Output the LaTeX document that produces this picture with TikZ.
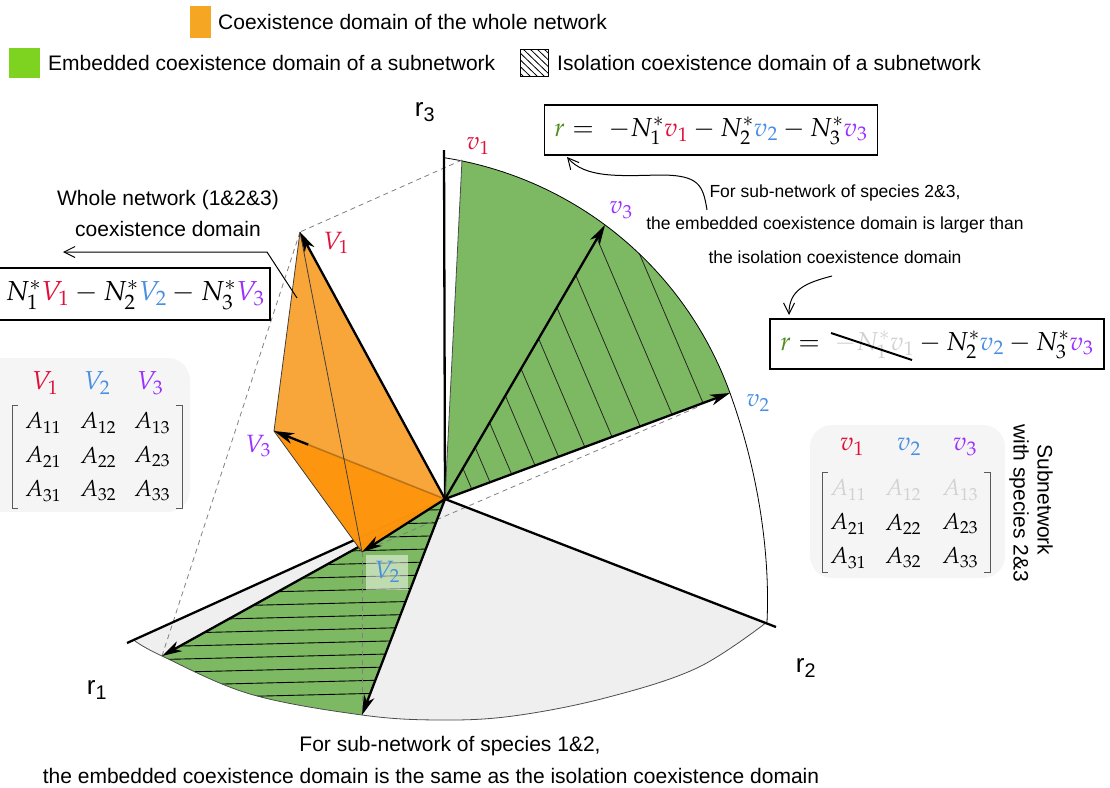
\documentclass[tikz,border=0pt]{standalone}
\usepackage{amsmath}
\usepackage{mathpazo}
\usepackage[no-math]{fontspec}
\setmainfont{Liberation Sans}
\usetikzlibrary{arrows.meta,calc}
\definecolor{cred}{HTML}{E0103A}
\definecolor{cblue}{HTML}{4A90E2}
\definecolor{cpurple}{HTML}{9B30FF}
\definecolor{cgreenr}{HTML}{4E8C1A}
\definecolor{legorange}{HTML}{F5A623}
\definecolor{leggreen}{HTML}{7ED321}
\definecolor{dgreen}{HTML}{7DB962}
\definecolor{orA}{HTML}{F8A02E}
\definecolor{orB}{HTML}{FF9100}
\definecolor{sectgray}{HTML}{EFEFEF}
\definecolor{boxgray}{HTML}{F5F5F5}
\begin{document}
\begin{tikzpicture}[x=1pt,y=-1pt,
  vec/.style={line width=2.3pt, -{Stealth[length=20pt,width=11pt,inset=6pt]}},
  axisline/.style={line width=2.3pt},
  thinedge/.style={line width=0.8pt},
  dashline/.style={gray, line width=0.8pt, dash pattern=on 5pt off 4pt},
  hatchl/.style={line width=0.8pt, black!85},
  lbl/.style={font=\fontsize{25}{28}\selectfont, inner sep=0pt},
  txt/.style={font=\fontsize{21}{25}\selectfont, inner sep=0pt, align=center},
  txts/.style={font=\fontsize{17.5}{21}\selectfont, inner sep=0pt, align=center},
  note/.style={line width=1pt, -{Straight Barb[length=11pt,width=11pt]}},
  eqbox/.style={draw, line width=1.5pt, inner sep=0pt},
  eqtxt/.style={font=\fontsize{26}{30}\selectfont, inner sep=0pt},
  eqtxtl/.style={font=\fontsize{27.5}{31}\selectfont, inner sep=0pt},
  ment/.style={font=\fontsize{23}{26}\selectfont, inner sep=0pt},
  mhead/.style={font=\fontsize{26}{30}\selectfont, inner sep=0pt},
  graybox/.style={fill=boxgray, rounded corners=22pt},
  bracket/.style={line width=1pt, black!65},
  axlbl/.style={font=\fontsize{26}{30}\selectfont, inner sep=0pt},
]
\useasboundingbox (0,0) rectangle (1110,787);
% key points
\coordinate (O) at (445,499);
\coordinate (R3) at (444,150);
\coordinate (R1) at (127,643);
\coordinate (R2) at (776,627);
\coordinate (P1) at (462,160);
\coordinate (P3) at (605,225);
\coordinate (P2) at (730,393);
\coordinate (B1) at (162,656);
\coordinate (B2) at (362,715);
\coordinate (V1) at (300,232);
\coordinate (V3) at (274,431);
\coordinate (V2) at (362,552);
\coordinate (D2) at (700,406);

% legend
\fill[legorange] (190,6) rectangle (211,38);
\node[txt, anchor=west] (leg1) at (218,22) {Coexistence domain of the whole network};
\fill[leggreen] (9,48) rectangle (40,78);
\node[txt, anchor=west] (leg2) at (48,63) {Embedded coexistence domain of a subnetwork};
\begin{scope}
  \clip (520,49) rectangle (548,76);
  \foreach \k in {-25,-18,...,30} \draw[line width=0.8pt] ({520+\k},49) -- ({548+\k},76);
\end{scope}
\draw[line width=1pt] (520,49) rectangle (548,76);
\node[txt, anchor=west] (leg3) at (557,63) {Isolation coexistence domain of a subnetwork};

% bottom gray sector
\fill[sectgray] (O) -- plot[smooth,tension=0.6] coordinates {(767,622) (697,668) (605,698) (513,716) (440,720) (362,715) (250,694) (162,656) (135,641)} -- cycle;
% bottom green + hatch
\begin{scope}
  \clip (O) -- ($(O)!3!(B1)$) -- ($(O)!3!(B2)$) -- cycle;
  \clip (O) -- plot[smooth,tension=0.6] coordinates {(767,622) (697,668) (605,698) (513,716) (440,720) (362,715) (250,694) (162,656) (135,641)} -- cycle;
  \fill[dgreen] (0,400) rectangle (800,787);
  \foreach \yy in {512,525,...,705} \draw[line width=0.9pt] (100,{\yy+6}) -- (470,{\yy-3});
\end{scope}
% upper green
\begin{scope}
  \clip (O) -- ($(O)!3!(P1)$) -- ($(O)!3!(P2)$) -- cycle;
  \fill[dgreen] (O) -- plot[domain=-81.1:-19.8,samples=60] ({389+362.5*cos(\x)},{516+362.5*sin(\x)}) .. controls (760.5,477.7) and (770,560) .. (767,622) -- cycle;
\end{scope}
% upper hatch
\begin{scope}
  \clip (O) -- ($(O)!3!(P3)$) -- ($(O)!3!(P2)$) -- cycle;
  \clip (O) -- plot[domain=-81.1:-19.8,samples=60] ({389+362.5*cos(\x)},{516+362.5*sin(\x)}) .. controls (760.5,477.7) and (770,560) .. (767,622) -- cycle;
  \foreach \o in {28.5,48,71,96,121,149,178,208,242,275}
    \draw[hatchl] ({445+\o*0.920-600*0.392},{499-\o*0.392-600*0.920}) -- ({445+\o*0.920+600*0.392},{499-\o*0.392+600*0.920});
\end{scope}
% arcs
\draw[thinedge] plot[domain=-81.1:-19.8,samples=60] ({389+362.5*cos(\x)},{516+362.5*sin(\x)}) .. controls (760.5,477.7) and (770,560) .. (767,622);
\draw[thinedge, black!70] plot[smooth,tension=0.6] coordinates {(767,622) (697,668) (605,698) (513,716) (440,720) (362,715) (250,694) (162,656) (135,641)};
% dashed projection lines
\draw[dashline] (P1) -- (V1);
\draw[dashline] (V1) -- (B1);
\draw[dashline] (V2) -- (B2);
\draw[dashline] (V2) -- (D2);
% axes
\draw[axisline] (O) -- (R3);
\draw[axisline] (O) -- (R1);
\draw[axisline] (O) -- (R2);
\draw[thinedge, black!70] (O) -- (P1);
% subnetwork vectors
\draw[vec] (O) -- (P3);
\draw[vec] (O) -- (P2);
\draw[vec] (O) -- (B1);
\draw[vec] (O) -- (B2);
% orange cone
\fill[orA, opacity=0.95] (V1) -- (V3) -- (V2) -- (O) -- cycle;
\fill[orB, opacity=0.75] (V3) -- (V2) -- (O) -- cycle;
\draw[thinedge, black!75] (V1) -- (V3) -- (V2);
\draw[thinedge, black!75] (V1) -- (V2);
\draw[line width=1.6pt, black, opacity=0.25] (O) -- (V3);
\draw[vec] ($(O)!0.8!(V3)$) -- (V3);
\draw[vec] (O) -- (V1);
\draw[vec] (O) -- (V2);
% labels
\node[lbl, text=cred] (lv1) at (478,146) {$v_1$};
\node[lbl, text=cpurple] (lv3) at (621,210) {$v_3$};
\node[lbl, text=cblue] (lv2) at (758,403) {$v_2$};
\node[lbl, text=cred] (lV1) at (336,243) {$V_1$};
\node[lbl, text=cpurple] (lV3) at (258,446) {$V_3$};
\fill[white, opacity=0.5] (366,555) rectangle (408,590);
\node[lbl, text=cblue] (lV2) at (387,572) {$V_2$};
\node[axlbl] (r3) at (425,112) {r\textsubscript{3}};
\node[axlbl] (r1) at (97,690) {r\textsubscript{1}};
\node[axlbl] (r2) at (806,668) {r\textsubscript{2}};

% equation boxes
\node[eqbox, minimum width=333pt, minimum height=50pt] (eqTop) at (711,130) {};
\node[eqtxt] (eqTopT) at (711,131) {${\color{cgreenr}r} =\; -N_1^*{\color{cred}v_1} - N_2^*{\color{cblue}v_2} - N_3^*{\color{cpurple}v_3}$};
\node[eqbox, minimum width=334pt, minimum height=50pt] (eqR) at (937,344) {};
\node[eqtxt] (eqRT) at (937,345) {${\color{cgreenr}r} =\; {\color{black!18}-N_1^*v_1} - N_2^*{\color{cblue}v_2} - N_3^*{\color{cpurple}v_3}$};
\draw[line width=2pt] (831,333) -- (912,360);
\node[eqbox, minimum width=286pt, minimum height=52pt] (eqL) at (127,294) {};
\node[eqtxtl] (eqLT) at (135,295) {$N_1^*{\color{cred}V_1} - N_2^*{\color{cblue}V_2} - N_3^*{\color{cpurple}V_3}$};

% matrices
\fill[graybox] (-25,358) rectangle (190,512);
\node[mhead, text=cred] (LH1) at (45,383) {$V_1$};
\node[mhead, text=cblue] (LH2) at (97,383) {$V_2$};
\node[mhead, text=cpurple] (LH3) at (150,383) {$V_3$};
\draw[bracket] (18,405) -- (12,405) -- (12,508) -- (18,508);
\draw[bracket] (176,405) -- (182,405) -- (182,508) -- (176,508);
\foreach \r/\yy in {1/423,2/457,3/491}
  \foreach \c/\xx in {1/43,2/98,3/152}
    \node[ment] (LA\r\c) at (\xx,\yy) {$A_{\r\c}$};

\fill[graybox] (810,425) rectangle (1005,578);
\node[mhead, text=cred] (RH1) at (852,447) {$v_1$};
\node[mhead, text=cblue] (RH2) at (909,447) {$v_2$};
\node[mhead, text=cpurple] (RH3) at (965,447) {$v_3$};
\draw[bracket] (828,472) -- (822,472) -- (822,572) -- (828,572);
\draw[bracket] (984,472) -- (990,472) -- (990,572) -- (984,572);
\foreach \r/\yy/\cc in {1/490/black!18,2/524/black,3/558/black}
  \foreach \c/\xx in {1/848,2/903,3/960}
    \node[ment, text=\cc] (RA\r\c) at (\xx,\yy) {$A_{\r\c}$};
\node[txt, rotate=-90] (sub1) at (1045,500) {Subnetwork};
\node[txt, rotate=-90] (sub2) at (1019,503) {with species 2\&3};

% annotations
\node[txt] (wn1) at (168,200) {Whole network (1\&2\&3)};
\node[txt] (wn2) at (168,229) {coexistence domain};
\coordinate (wnA) at (297,298);
\coordinate (wnB) at (267,252);
\coordinate (wnC) at (63,252);
\draw[note] (wnA) -- (wnB) -- (wnC);

\node[txts] (t1) at (835,193) {For sub-network of species 2\&3,};
\node[txts] (t2) at (835,225) {the embedded coexistence domain is larger than};
\node[txts] (t3) at (835,257) {the isolation coexistence domain};
\coordinate (c1s) at (707,210);
\coordinate (c1e) at (567,157);
\draw[note] (c1s) .. controls (703,185) and (699,175) .. (660,175) .. controls (618,176) and (585,178) .. (c1e);
\coordinate (c2s) at (832,276);
\coordinate (c2e) at (789,315);
\draw[note] (c2s) .. controls (805,283) and (789,290) .. (c2e);

\node[txt] (b1) at (450,746) {For sub-network of species 1\&2,};
\node[txt] (b2) at (431,776) {the embedded coexistence domain is the same as the isolation coexistence domain};
\end{tikzpicture}
\end{document}
